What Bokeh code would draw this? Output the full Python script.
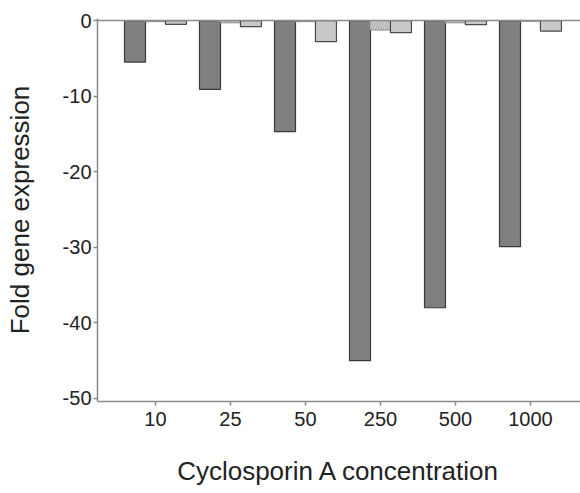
from bokeh.plotting import figure
from bokeh.models import FixedTicker, Span, Range1d
from bokeh.embed import file_html
from bokeh.resources import INLINE

# data
concentrations = ["10", "25", "50", "250", "500", "1000"]
series_dark = [-5.5, -9.1, -14.7, -45.0, -38.0, -29.9]
series_hatched = [-0.15, -0.3, -0.15, -1.25, -0.3, -0.1]
series_light = [-0.5, -0.8, -2.8, -1.6, -0.55, -1.4]
y_ticks = [0, -10, -20, -30, -40, -50]

xs = list(range(1, len(concentrations) + 1))
bw = 0.28
off = 0.273

p = figure(width=580, height=493, output_backend="svg", toolbar_location=None,
           x_range=Range1d(0.227, 6.667), y_range=Range1d(-50.4, 0.27),
           min_border_left=97, min_border_right=0, min_border_top=18,
           min_border_bottom=92)
p.outline_line_color = None
p.xgrid.visible = False
p.ygrid.visible = False
p.background_fill_color = "white"
p.border_fill_color = "white"

p.vbar(x=[x - off for x in xs], top=series_dark, bottom=0, width=bw,
       fill_color="#808080", line_color="#3a3a3a", line_width=1.2)
p.vbar(x=xs, top=series_hatched, bottom=0, width=bw,
       fill_color="#d4d4d4", line_color="#8a8a8a", line_width=1,
       hatch_pattern="/", hatch_color="#a0a0a0", hatch_scale=5, hatch_weight=1)
p.vbar(x=[x + off for x in xs], top=series_light, bottom=0, width=bw,
       fill_color="#c8c8c8", line_color="#4a4a4a", line_width=1.2)

p.add_layout(Span(location=0, dimension="width", line_color="#8c8c8c", line_width=1.5))

font = "Liberation Sans"
p.xaxis.ticker = FixedTicker(ticks=xs)
p.xaxis.major_label_overrides = {x: c for x, c in zip(xs, concentrations)}
p.yaxis.ticker = FixedTicker(ticks=y_ticks)
p.yaxis.major_label_overrides = {t: str(t) for t in y_ticks}
for ax in (p.xaxis, p.yaxis):
    ax.axis_line_color = "#8a8a8a"
    ax.axis_line_width = 1.5
    ax.major_tick_line_color = "#8a8a8a"
    ax.major_tick_line_width = 1.5
    ax.major_tick_in = 0
    ax.major_tick_out = 4
    ax.minor_tick_line_color = None
    ax.major_label_text_font = font
    ax.major_label_text_font_size = "20px"
    ax.major_label_text_color = "#222222"
    ax.axis_label_text_font = font
    ax.axis_label_text_font_size = "26px"
    ax.axis_label_text_font_style = "normal"
    ax.axis_label_text_color = "#222222"
p.xaxis.axis_label = "Cyclosporin A concentration"
p.yaxis.axis_label = "Fold gene expression"
p.xaxis.major_label_standoff = 6
p.yaxis.major_label_standoff = 2
p.xaxis.axis_label_standoff = 27
p.yaxis.axis_label_standoff = 25

open("out.html", "w").write(file_html(p, INLINE))
